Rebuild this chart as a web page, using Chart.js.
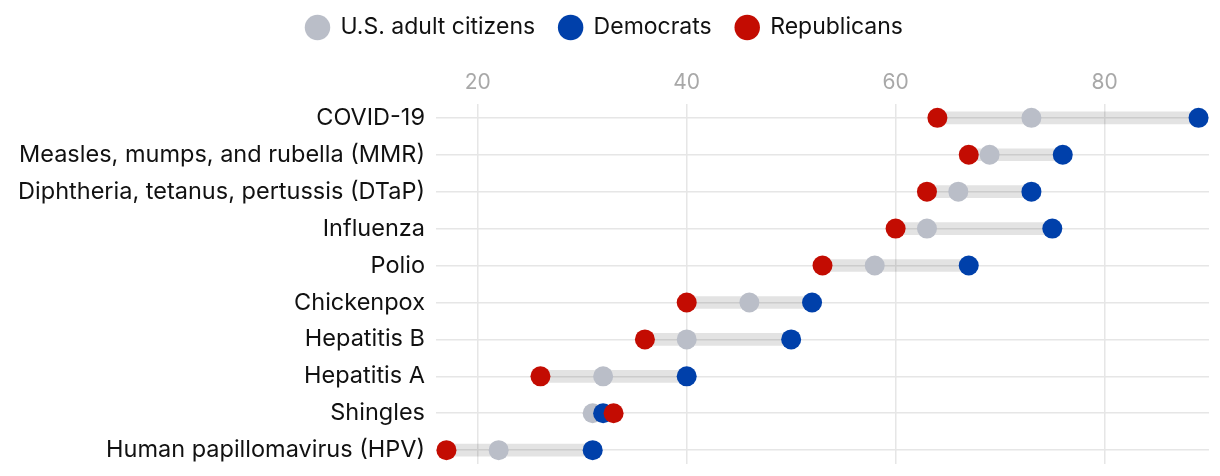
<!DOCTYPE html>
<html lang="en">
<head>
    <meta charset="UTF-8">
    <title>Vaccine dumbbell chart</title>
    <style>
        html, body {
            margin: 0;
            padding: 0;
            background: #fff;
        }
        .chart-box {
            width: 1220px;
            height: 476px;
        }
    </style>
</head>
<body>
<div class="chart-box">
    <canvas id="vaccineChart"></canvas>
</div>

<script src="https://cdn.jsdelivr.net/npm/chart.js"></script>
<script>
    const categories = [
        'COVID-19',
        'Measles, mumps, and rubella (MMR)',
        'Diphtheria, tetanus, pertussis (DTaP)',
        'Influenza',
        'Polio',
        'Chickenpox',
        'Hepatitis B',
        'Hepatitis A',
        'Shingles',
        'Human papillomavirus (HPV)'
    ];
    const citizens = [73, 69, 66, 63, 58, 46, 40, 32, 31, 22];
    const democrats = [89, 76, 73, 75, 67, 52, 50, 40, 32, 31];
    const republicans = [64, 67, 63, 60, 53, 40, 36, 26, 33, 17];
    const xTicks = [20, 40, 60, 80];

    const FONT = 'Inter, "Noto Sans", sans-serif';

    function points(values) {
        return values.map((v, i) => ({ x: v, y: i }));
    }

    // grey connector from the lowest to the highest value of each row
    const ranges = categories.map((c, i) => {
        const vals = [citizens[i], democrats[i], republicans[i]];
        return { x: [Math.min(...vals), Math.max(...vals)], y: i };
    });

    function dotSet(label, values, color, order) {
        return {
            type: 'scatter',
            label: label,
            data: points(values),
            backgroundColor: color,
            borderColor: color,
            borderWidth: 0,
            pointRadius: 10,
            pointHoverRadius: 10,
            order: order
        };
    }

    const legendHeight = {
        id: 'legendHeight',
        beforeInit(chart) {
            const fit = chart.legend.fit;
            chart.legend.fit = function () {
                fit.bind(chart.legend)();
                this.height = 60;
            };
        }
    };

    const ctx = document.getElementById('vaccineChart').getContext('2d');
    new Chart(ctx, {
        data: {
            datasets: [
                dotSet('U.S. adult citizens', citizens, '#babec8', 3),
                dotSet('Democrats', democrats, '#0040aa', 2),
                dotSet('Republicans', republicans, '#c30c02', 1),
                {
                    type: 'bar',
                    label: 'range',
                    indexAxis: 'y',
                    data: ranges,
                    backgroundColor: 'rgba(0, 0, 0, 0.11)',
                    borderWidth: 0,
                    barThickness: 12,
                    order: 4
                }
            ]
        },
        options: {
            responsive: true,
            maintainAspectRatio: false,
            animation: false,
            layout: {
                padding: { top: -8, right: 11, bottom: 12, left: 0 }
            },
            plugins: {
                legend: {
                    position: 'top',
                    labels: {
                        usePointStyle: true,
                        boxHeight: 18,
                        padding: 24,
                        color: '#111',
                        font: { family: FONT, size: 23 },
                        filter: item => item.text !== 'range',
                        sort: (a, b) => a.datasetIndex - b.datasetIndex
                    }
                },
                tooltip: { enabled: false }
            },
            scales: {
                x: {
                    type: 'linear',
                    position: 'top',
                    min: 16,
                    max: 90,
                    afterBuildTicks: scale => {
                        scale.ticks = xTicks.map(v => ({ value: v }));
                    },
                    afterFit: scale => {
                        scale.height = 52;
                    },
                    grid: {
                        color: '#e6e6e6',
                        lineWidth: 1.5,
                        drawTicks: false
                    },
                    border: { display: false },
                    ticks: {
                        color: '#a8a8a8',
                        padding: 9,
                        font: { family: FONT, size: 21 }
                    }
                },
                y: {
                    type: 'linear',
                    reverse: true,
                    offset: false,
                    min: -0.375,
                    max: 9.375,
                    afterBuildTicks: scale => {
                        scale.ticks = categories.map((c, i) => ({ value: i }));
                    },
                    afterFit: scale => {
                        scale.width = 436;
                        scale.paddingTop = 0;
                        scale.paddingBottom = 0;
                    },
                    grid: {
                        offset: false,
                        color: '#e6e6e6',
                        lineWidth: 1.5,
                        drawTicks: false
                    },
                    border: { display: false },
                    ticks: {
                        color: '#111',
                        padding: 11,
                        autoSkip: false,
                        font: { family: FONT, size: 23.5 },
                        callback: value => categories[value]
                    }
                }
            }
        },
        plugins: [legendHeight]
    });
</script>
</body>
</html>
